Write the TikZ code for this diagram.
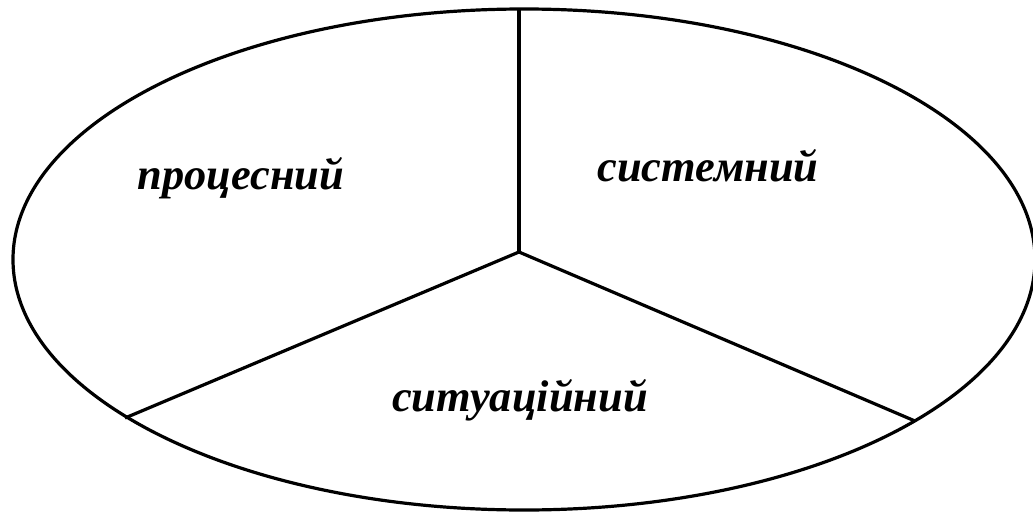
\documentclass[tikz,border=0pt]{standalone}
\usepackage{fontspec}
\setmainfont{Liberation Serif}
\begin{document}
\begin{tikzpicture}[x=1pt,y=-1pt,
  edge/.style={line width=3.2pt},
  lbl/.style={font=\fontsize{44.4}{50}\selectfont\bfseries\itshape, anchor=base, inner sep=0pt}]
\useasboundingbox (0,0) rectangle (1033,514);
\draw[edge] (524,259.5) ellipse [x radius=511, y radius=250.5];
\coordinate (c) at (519,252);
\coordinate (t) at (519,9);
\coordinate (l) at (125,418);
\coordinate (r) at (915,421);
\draw[edge] (c) -- (t);
\draw[edge] (c) -- (l);
\draw[edge] (c) -- (r);
\node[lbl] (p) at (241,189) {процесний};
\node[lbl] (s) at (708,181) {системний};
\node[lbl] (u) at (520,411) {ситуаційний};
\end{tikzpicture}
\end{document}
